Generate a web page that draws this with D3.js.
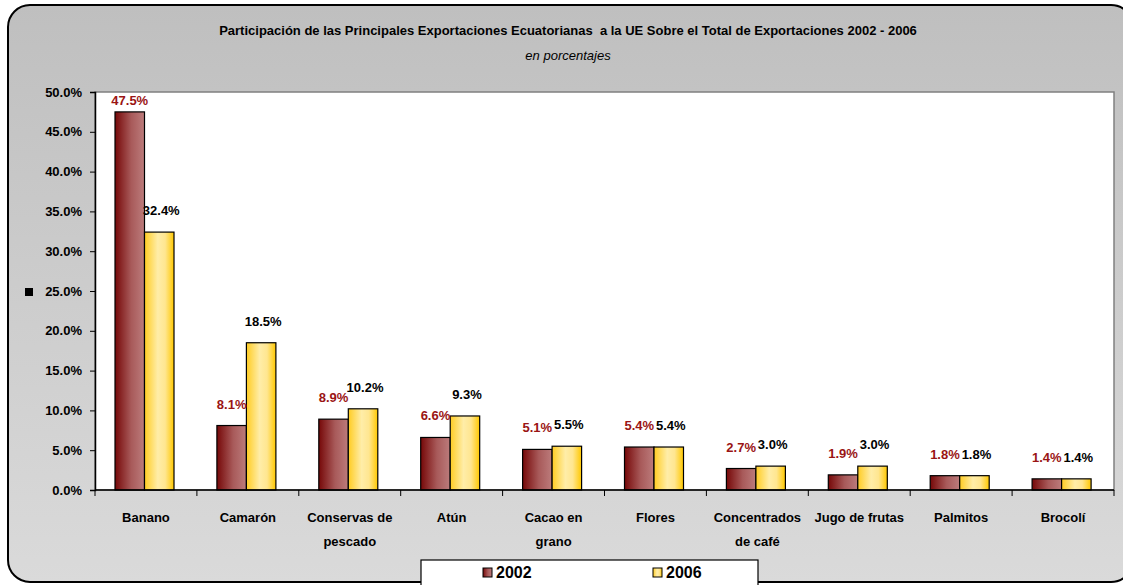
<!DOCTYPE html>
<html>
<head>
<meta charset="utf-8">
<script src="https://cdn.jsdelivr.net/npm/d3@7.9.0/dist/d3.min.js"></script>
<style>
  body { margin: 0; background: #fff; }
  svg { display: block; font-family: "Liberation Sans", Arial, sans-serif; }
  .tick text { font-weight: bold; font-size: 13px; fill: #000; }
</style>
</head>
<body>
<svg id="chart" width="1123" height="585"></svg>
<script>
// data
const categories = [
  ["Banano"], ["Camarón"], ["Conservas de", "pescado"], ["Atún"], ["Cacao en", "grano"],
  ["Flores"], ["Concentrados", "de café"], ["Jugo de frutas"], ["Palmitos"], ["Brocolí"]
];
const years = ["2002", "2006"];
const values2002 = [47.5, 8.1, 8.9, 6.6, 5.1, 5.4, 2.7, 1.9, 1.8, 1.4];
const values2006 = [32.4, 18.5, 10.2, 9.3, 5.5, 5.4, 3.0, 3.0, 1.8, 1.4];
const yTicks = [0, 5, 10, 15, 20, 25, 30, 35, 40, 45, 50];

const title = "Participación de las Principales Exportaciones Ecuatorianas  a la UE Sobre el Total de Exportaciones 2002 - 2006";
const subtitle = "en porcentajes";

const svg = d3.select("#chart");
const plot = { left: 95, top: 92, right: 1114, bottom: 490 };

const defs = svg.append("defs");
const bg = defs.append("linearGradient").attr("id", "bg").attr("x1", 0).attr("y1", 0).attr("x2", 0).attr("y2", 1);
bg.append("stop").attr("offset", "0%").attr("stop-color", "#bfbfbf");
bg.append("stop").attr("offset", "100%").attr("stop-color", "#dadada");

const g02 = defs.append("linearGradient").attr("id", "g2002").attr("x1", 0).attr("x2", 1).attr("y1", 0).attr("y2", 0);
g02.append("stop").attr("offset", "0%").attr("stop-color", "#760808");
g02.append("stop").attr("offset", "55%").attr("stop-color", "#a85a5a");
g02.append("stop").attr("offset", "100%").attr("stop-color", "#bc7c7c");

const g06 = defs.append("linearGradient").attr("id", "g2006").attr("x1", 0).attr("x2", 1).attr("y1", 0).attr("y2", 0);
g06.append("stop").attr("offset", "0%").attr("stop-color", "#ffcc22");
g06.append("stop").attr("offset", "45%").attr("stop-color", "#ffeda8");
g06.append("stop").attr("offset", "70%").attr("stop-color", "#ffe690");
g06.append("stop").attr("offset", "100%").attr("stop-color", "#ffc800");

// frame
svg.append("rect")
  .attr("x", 8).attr("y", 5).attr("width", 1125).attr("height", 577)
  .attr("rx", 22).attr("ry", 22)
  .attr("fill", "url(#bg)").attr("stroke", "#000").attr("stroke-width", 2);

svg.append("text").attr("x", 568).attr("y", 35)
  .attr("text-anchor", "middle").attr("font-weight", "bold").attr("font-size", 13)
  .style("white-space", "pre")
  .text(title);
svg.append("text").attr("x", 568).attr("y", 60)
  .attr("text-anchor", "middle").attr("font-style", "italic").attr("font-size", 13)
  .text(subtitle);

// plot area
svg.append("rect")
  .attr("x", plot.left).attr("y", plot.top)
  .attr("width", plot.right - plot.left).attr("height", plot.bottom - plot.top)
  .attr("fill", "#fff").attr("stroke", "#808080").attr("stroke-width", 1.5);

const x = d3.scaleBand().domain(d3.range(categories.length)).range([plot.left, plot.right]);
const y = d3.scaleLinear().domain([0, 50]).range([plot.bottom, plot.top]);
const barW = 29.5;
const groupOff = 20;

const rows = categories.map((c, i) => ({ i, vals: [values2002[i], values2006[i]] }));

const groups = svg.append("g").selectAll("g").data(rows).join("g");
groups.selectAll("rect")
  .data(d => d.vals.map((v, k) => ({ i: d.i, k, v })))
  .join("rect")
  .attr("x", d => x(d.i) + groupOff + d.k * barW)
  .attr("y", d => y(d.v))
  .attr("width", barW)
  .attr("height", d => y(0) - y(d.v))
  .attr("fill", d => d.k === 0 ? "url(#g2002)" : "url(#g2006)")
  .attr("stroke", "#000").attr("stroke-width", 1.2);

groups.selectAll("text.lbl")
  .data(d => d.vals.map((v, k) => ({ i: d.i, k, v })))
  .join("text")
  .attr("class", "lbl")
  .attr("x", d => x(d.i) + groupOff + d.k * barW + barW / 2 + (d.k === 1 ? 2 : 0))
  .attr("y", d => Math.max(y(d.v) - 17, plot.top + 13))
  .attr("text-anchor", "middle")
  .attr("font-weight", "bold").attr("font-size", 13)
  .attr("fill", d => d.k === 0 ? "#9a1414" : "#000")
  .text(d => d.v.toFixed(1) + "%");

// y axis
svg.append("g")
  .attr("transform", `translate(${plot.left},0)`)
  .call(d3.axisLeft(y).tickValues(yTicks).tickSize(5).tickPadding(8).tickFormat(d => d.toFixed(1) + "%"))
  .call(g => g.select(".domain").attr("stroke", "#000").attr("stroke-width", 1.5));

// x axis: ticks between categories
const xAxis = svg.append("g").attr("transform", `translate(0,${plot.bottom})`);
xAxis.append("line").attr("x1", plot.left).attr("x2", plot.right).attr("stroke", "#000").attr("stroke-width", 1.5);
xAxis.selectAll("line.tk")
  .data(d3.range(categories.length + 1))
  .join("line").attr("class", "tk")
  .attr("x1", i => plot.left + i * x.step()).attr("x2", i => plot.left + i * x.step())
  .attr("y1", 0).attr("y2", 6).attr("stroke", "#000");
xAxis.selectAll("text")
  .data(categories)
  .join("text")
  .attr("text-anchor", "middle")
  .attr("font-weight", "bold").attr("font-size", 13)
  .attr("transform", (d, i) => `translate(${x(i) + x.bandwidth() / 2},${32})`)
  .selectAll("tspan").data(d => d).join("tspan")
  .attr("x", 0).attr("dy", (d, j) => j === 0 ? 0 : 24)
  .text(d => d);

// stray legend marker on the left
svg.append("rect").attr("x", 25).attr("y", 288).attr("width", 8).attr("height", 8).attr("fill", "#000");

// legend
const leg = svg.append("g");
leg.append("rect").attr("x", 421).attr("y", 560).attr("width", 337).attr("height", 30)
  .attr("fill", "#fff").attr("stroke", "#000").attr("stroke-width", 1.2);
const legX = [483, 653];
years.forEach((yr, k) => {
  leg.append("rect").attr("x", legX[k]).attr("y", 568).attr("width", 9).attr("height", 9)
    .attr("fill", k === 0 ? "url(#g2002)" : "url(#g2006)").attr("stroke", "#000");
  leg.append("text").attr("x", legX[k] + 13).attr("y", 578)
    .attr("font-size", 16).attr("font-weight", "bold").text(yr);
});
</script>
</body>
</html>
